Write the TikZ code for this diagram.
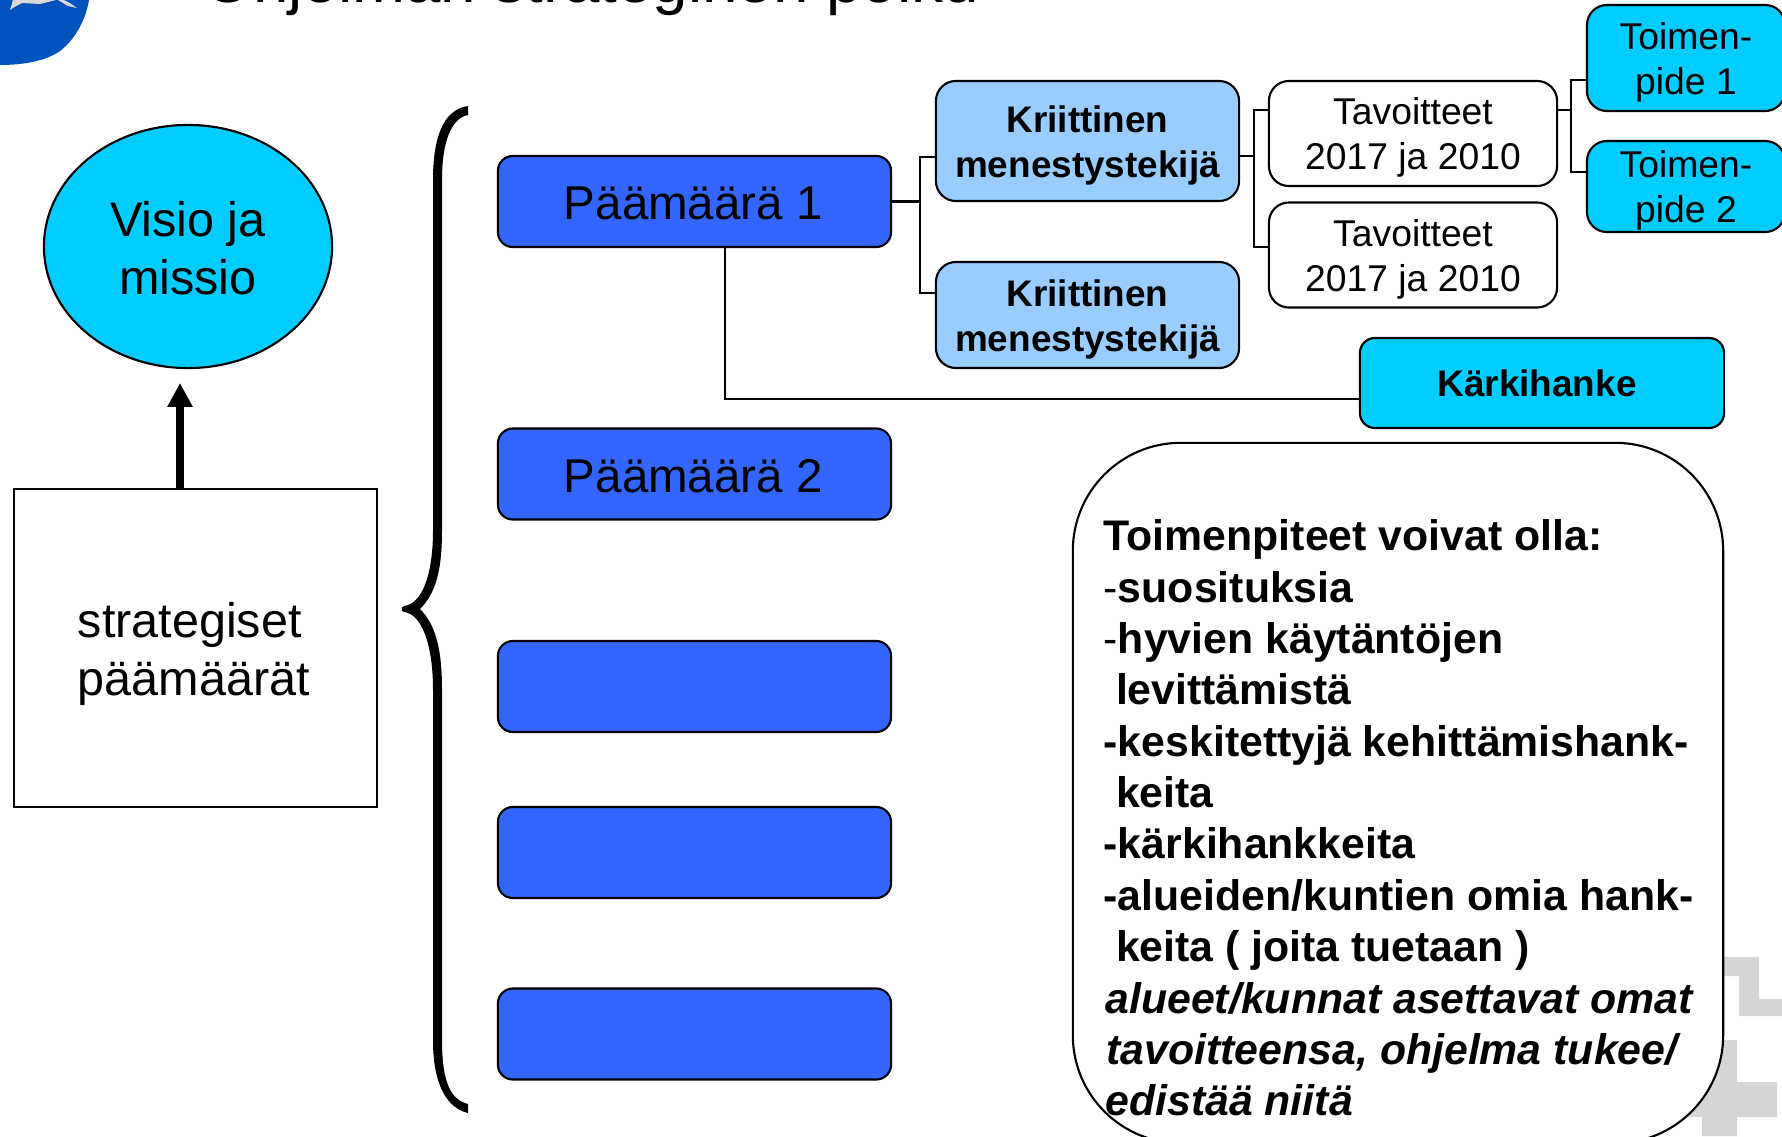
\documentclass[tikz,border=0pt]{standalone}
\usepackage{fontspec}
\setmainfont{Liberation Sans}
\usetikzlibrary{shapes.geometric,arrows.meta}

\begin{document}
\begin{tikzpicture}[x=0.01cm,y=-0.01cm]
\tikzstyle{every node}=[inner sep=0,font=\fontsize{10.6}{12.8}\selectfont,align=center]
\tikzstyle{viiva}=[draw=black,line width=0.6pt]
\tikzstyle{pieni}=[execute at begin node={\rule{0pt}{22.8pt}}]
\tikzstyle{iso}=[font=\fontsize{13.8}{16.3}\selectfont]
\tikzstyle{paamaara}=[viiva,rounded corners=0.15cm,fill=paablue,minimum width=3.93cm,minimum height=0.91cm,font=\fontsize{13.5}{16}\selectfont,execute at begin node={\rule{0pt}{10.5pt}},execute at end node={\hspace*{0.7pt}}]
\tikzstyle{kriittinen}=[viiva,pieni,rounded corners=0.2cm,fill=kritblue,minimum width=3.03cm,font=\fontsize{10.5}{12.7}\selectfont\bfseries]
\tikzstyle{tavoite}=[viiva,pieni,rounded corners=0.2cm,fill=white,minimum width=2.88cm,minimum height=1.05cm]
\tikzstyle{toimenpide}=[viiva,pieni,rounded corners=0.2cm,fill=cyanblue,minimum width=1.98cm]
\definecolor{paablue}{HTML}{3366FF}
\definecolor{kritblue}{HTML}{99CCFF}
\definecolor{cyanblue}{HTML}{00CCFF}
\definecolor{logoblue}{HTML}{0052BD}
\definecolor{vesileima}{HTML}{D6D6D6}
\clip (0,0) rectangle (1782,1136);

\fill [logoblue] (0,0) -- (89,0) .. controls (85,25) and (70,45) .. (57,53) .. controls (42,62) and (20,65) .. (0,65) -- cycle;
\fill [gray!30] (13,0) -- (10,10) -- (16,6) -- (22,3) -- (40,4) -- (56,0) -- cycle;
\fill [gray!30] (58,0) -- (68,6) -- (77,8) -- (70,3) -- (64,0) -- cycle;
\node [anchor=base west,font=\fontsize{18.1}{20}\selectfont] (otsikko) at (203,2) {Ohjelman strateginen polku};

\fill [vesileima] (1723,957) -- (1759,957) -- (1759,999) -- (1782,999) -- (1782,1016) -- (1739,1016) -- (1739,976) -- (1723,976) -- cycle;
\fill [vesileima] (1722,1040) -- (1737,1040) -- (1737,1082) -- (1777,1082) -- (1777,1117) -- (1737,1117) -- (1737,1136) -- (1702,1136) -- (1702,1117) -- (1680,1117) -- cycle;

\node [viiva,iso,ellipse,fill=cyanblue,minimum width=2.88cm,minimum height=2.43cm,execute at begin node={\rule{0pt}{27.3pt}}] (visio) at (188,246.5) {Visio ja\\missio};
\node [viiva,iso,fill=white,minimum width=3.63cm,minimum height=3.18cm,align=left,execute at begin node={\rule{0pt}{29.7pt}},execute at end node={\hspace*{1pt}}] (ruutu) at (195.5,648) {strategiset\\päämäärät};
\coordinate (nuoliala) at (180,489);
\coordinate (nuoliyla) at (180,383);
\draw [-{Triangle[length=6.8pt,width=6.8pt]},line width=2.2pt] (nuoliala) -- (nuoliyla);

\fill (468,106) .. controls (447,109) and (433,130) .. (433,180) -- (433,530) .. controls (433,575) and (422,604) .. (404,606) .. controls (401,607) and (401,611) .. (404,612) .. controls (422,614) and (433,645) .. (433,690) -- (433,1040) .. controls (433,1085) and (447,1108) .. (468,1113) -- (468,1104) .. controls (452,1100) and (442,1085) .. (442,1040) -- (442,690) .. controls (442,650) and (436,625) .. (420,609) .. controls (436,593) and (442,570) .. (442,530) -- (442,180) .. controls (442,140) and (452,118) .. (468,115) -- cycle;

\node [paamaara] (paa1) at (694.5,201.5) {Päämäärä 1};
\node [paamaara] (paa2) at (694.5,474) {Päämäärä 2};
\node [paamaara] (paa3) at (694.5,686.5) {};
\node [paamaara] (paa4) at (694.5,852.5) {};
\node [paamaara] (paa5) at (694.5,1034) {};

\node [kriittinen,minimum height=1.2cm] (krit1) at (1087.5,141) {Kriittinen\\menestystekijä};
\node [kriittinen,minimum height=1.06cm] (krit2) at (1087.5,315) {Kriittinen\\menestystekijä};
\node [tavoite] (tav1) at (1413,133.5) {Tavoitteet\\2017 ja 2010};
\node [tavoite] (tav2) at (1413,255) {Tavoitteet\\2017 ja 2010};
\node [toimenpide,minimum height=1.06cm] (toim1) at (1686,58) {Toimen-\\pide 1};
\node [toimenpide,minimum height=0.91cm] (toim2) at (1686,186.5) {Toimen-\\pide 2};
\node [viiva,rounded corners=0.15cm,fill=cyanblue,minimum width=3.64cm,minimum height=0.9cm,font=\fontsize{10.5}{12.7}\selectfont\bfseries,execute at end node={\hspace*{2.8pt}}] (karki) at (1542,383) {Kärkihanke};

\coordinate (haara1) at (920,201.5);
\coordinate (krit1in) at (936,157);
\coordinate (krit2in) at (936,293);
\coordinate (krit1out) at (1239,156);
\coordinate (haara2) at (1254,156);
\coordinate (tav1in) at (1269,110);
\coordinate (tav2in) at (1269,247);
\coordinate (tav1out) at (1557,110);
\coordinate (haara3) at (1571,110);
\coordinate (toim1in) at (1587,80);
\coordinate (toim2in) at (1587,172);
\coordinate (paa1ala) at (725,247);
\coordinate (karkiin) at (1360,399);
\draw [viiva] (paa1.east) -- (haara1);
\draw [viiva] (krit1in) -| (haara1);
\draw [viiva] (krit2in) -| (haara1);
\draw [viiva] (krit1out) -- (haara2);
\draw [viiva] (tav1in) -| (haara2);
\draw [viiva] (tav2in) -| (haara2);
\draw [viiva] (tav1out) -- (haara3);
\draw [viiva] (toim1in) -| (haara3);
\draw [viiva] (toim2in) -| (haara3);
\draw [viiva] (paa1ala) |- (karkiin);

\node [viiva,rounded corners=1.08cm,fill=white,minimum width=6.5cm,minimum height=7cm] (laatikko) at (1398,793) {};
\node [anchor=west,align=left,font=\fontsize{12.17}{14.6}\selectfont\bfseries] (toimet) at (1103,818) {Toimenpiteet voivat olla:\\
{\mdseries -}suosituksia\\
{\mdseries -}hyvien käytäntöjen\\
\hspace*{3.5pt}levittämistä\\
-keskitettyjä kehittämishank-\\
\hspace*{3.5pt}keita\\
-kärkihankkeita\\
-alueiden/kuntien omia hank-\\
\hspace*{3.5pt}keita ( joita tuetaan )\\
{\itshape \hspace*{0.5pt}alueet/kunnat asettavat omat}\\
{\itshape \hspace*{0.8pt}tavoitteensa, ohjelma tukee/}\\
{\itshape \hspace*{0.5pt}edistää niitä}};
\end{tikzpicture}
\end{document}
